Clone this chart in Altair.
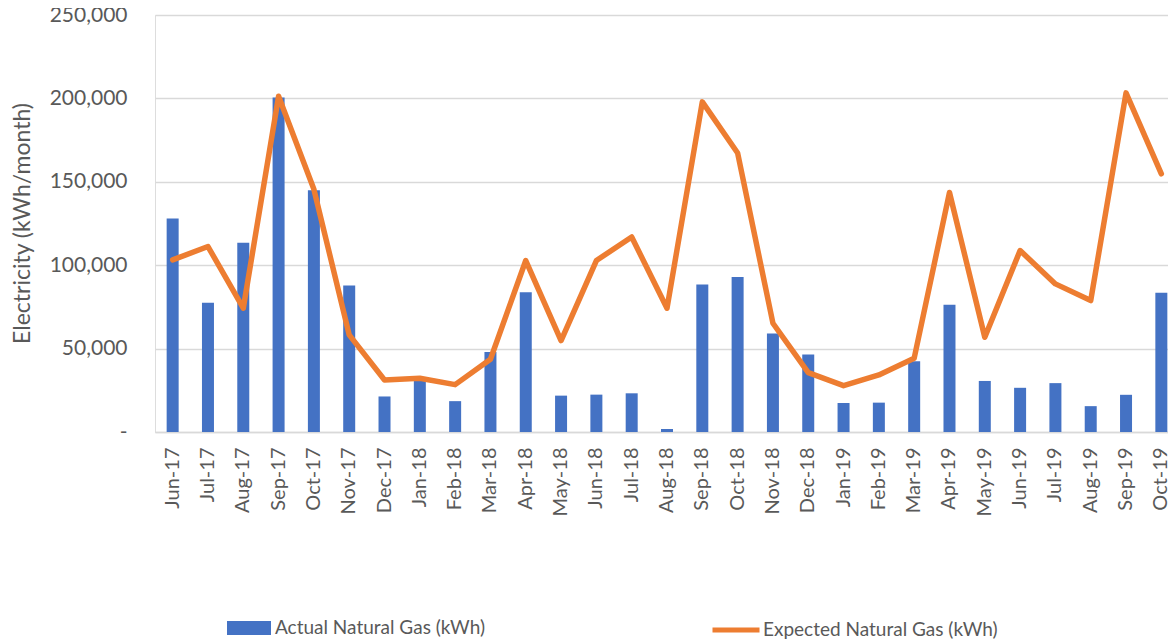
import altair as alt
import pandas as pd

months = ["Jun-17", "Jul-17", "Aug-17", "Sep-17", "Oct-17", "Nov-17", "Dec-17",
          "Jan-18", "Feb-18", "Mar-18", "Apr-18", "May-18", "Jun-18", "Jul-18",
          "Aug-18", "Sep-18", "Oct-18", "Nov-18", "Dec-18", "Jan-19", "Feb-19",
          "Mar-19", "Apr-19", "May-19", "Jun-19", "Jul-19", "Aug-19", "Sep-19", "Oct-19"]

actual = [128000, 77500, 113500, 200500, 145000, 87800, 21300,
          31000, 18500, 48000, 83800, 21800, 22400, 23200,
          1800, 88500, 93000, 59000, 46500, 17400, 17600,
          42400, 76300, 30600, 26500, 29300, 15500, 22300, 83500]

expected = [103200, 111200, 74200, 201300, 145500, 58200, 31200,
            32200, 28400, 43600, 102800, 54800, 102800, 116900,
            74200, 197900, 167300, 65200, 35600, 27800, 34200,
            44200, 143600, 56800, 108800, 88800, 78800, 203300, 154800]

actual_name = "Actual Natural Gas (kWh)"
expected_name = "Expected Natural Gas (kWh)"
y_title = "Electricity (kWh/month)"
y_ticks = [0, 50000, 100000, 150000, 200000, 250000]

df = pd.DataFrame({
    "month": months,
    "actual": actual,
    "expected": expected,
    "a_series": [actual_name] * len(months),
    "e_series": [expected_name] * len(months),
})

FONT = "Lato"
TXT = "#595959"
GRID = "#D9D9D9"

x_enc = alt.X(
    "month:N", sort=months,
    scale=alt.Scale(range=[0, 1024], paddingInner=0, paddingOuter=0),
    axis=alt.Axis(title=None, labelAngle=-90, labelFontSize=20, labelColor=TXT,
                  labelFont=FONT, labelPadding=15, ticks=False, domainColor=GRID,
                  domainWidth=1.5, grid=False, labelOverlap=False),
)

y_axis = alt.Axis(
    title=y_title, values=y_ticks, labelFontSize=21, labelFont=FONT, labelColor=TXT,
    labelExpr="datum.value === 0 ? '-\u00a0\u00a0' : format(datum.value, ',')",
    labelPadding=28, ticks=False, domain=False, gridColor=GRID, gridWidth=1.3,
    titleFont=FONT, titleFontSize=23, titleFontWeight="normal", titleColor=TXT,
    titleX=-121, titleY=208, titleAngle=-90, titleAlign="center", titleBaseline="bottom",
)

y_scale = alt.Scale(domain=[0, 250000], nice=False)

bars = alt.Chart(df).mark_bar(size=12).encode(
    x=x_enc,
    y=alt.Y("actual:Q", scale=y_scale, axis=y_axis),
    color=alt.Color("a_series:N", scale=alt.Scale(range=["#4472C4"]),
                    legend=alt.Legend(title=None, orient="none", legendX=72, legendY=591,
                                      symbolType="M-1,-0.32H1V0.32H-1Z", symbolSize=1936,
                                      symbolStrokeWidth=0, labelFont=FONT, labelFontSize=19,
                                      labelColor=TXT, labelOffset=4, labelLimit=0)),
)

line = alt.Chart(df).mark_line(strokeWidth=5.5, strokeCap="round", strokeJoin="round").encode(
    x=x_enc,
    y=alt.Y("expected:Q", scale=y_scale, axis=y_axis),
    stroke=alt.Stroke("e_series:N", scale=alt.Scale(range=["#ED7D31"]),
                      legend=alt.Legend(title=None, orient="none", legendX=555, legendY=589,
                                        symbolType="stroke", symbolSize=2209,
                                        symbolStrokeWidth=5, labelFont=FONT, labelFontSize=19,
                                        labelColor=TXT, labelOffset=1, labelLimit=0)),
)

chart = alt.layer(bars, line).resolve_legend(color="independent", stroke="independent").properties(
    width=1013, height=417,
    padding={"left": 147, "top": 7, "right": 0, "bottom": 209},
    autosize=alt.AutoSizeParams(type="none"),
).configure_view(stroke=None).configure(background="white")

chart.save("out.html", embed_options={"renderer": "svg", "actions": False})
